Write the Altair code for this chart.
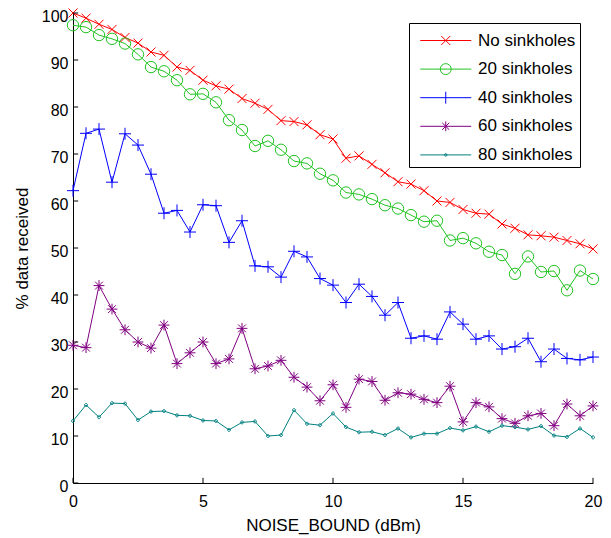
import altair as alt
import pandas as pd

x_values = [0, 0.5, 1, 1.5, 2, 2.5, 3, 3.5, 4, 4.5, 5, 5.5, 6, 6.5, 7, 7.5, 8, 8.5, 9, 9.5,
            10, 10.5, 11, 11.5, 12, 12.5, 13, 13.5, 14, 14.5, 15, 15.5, 16, 16.5, 17, 17.5,
            18, 18.5, 19, 19.5, 20]

series_names = ["No sinkholes", "20 sinkholes", "40 sinkholes", "60 sinkholes", "80 sinkholes"]

no_sinkholes = [100, 98.9, 97.6, 96.5, 94.8, 93.6, 91.7, 91.0, 88.5, 87.8, 85.7, 84.5, 83.8, 81.8,
                80.8, 79.5, 77.1, 76.9, 76.2, 74.1, 73.2, 69.1, 69.6, 67.8, 66.0, 64.1, 63.6, 62.2,
                60.0, 59.7, 58.2, 57.4, 57.2, 55.1, 54.2, 52.8, 52.6, 52.3, 51.6, 50.9, 49.8]
sinkholes_20 = [97.4, 97.0, 95.3, 94.5, 93.5, 91.2, 88.5, 87.6, 85.7, 82.7, 82.8, 81.0, 77.2, 75.1,
                71.7, 72.8, 70.9, 68.5, 68.0, 65.8, 64.4, 61.8, 61.4, 60.4, 59.1, 58.4, 57.0, 55.6,
                55.8, 51.6, 52.1, 51.0, 49.2, 48.5, 44.5, 48.2, 44.9, 45.1, 41.0, 45.2, 43.4]
sinkholes_40 = [62.2, 74.4, 75.3, 64.0, 74.3, 71.9, 65.7, 57.4, 58.0, 53.4, 59.2, 59.0, 51.2, 55.8,
                46.2, 46.0, 43.8, 49.3, 48.1, 43.5, 42.1, 38.4, 42.3, 39.7, 35.7, 38.4, 30.8, 31.3,
                30.6, 36.4, 33.8, 30.6, 31.3, 28.5, 29.0, 30.8, 25.8, 28.5, 26.5, 26.2, 26.8]
sinkholes_60 = [29.3, 28.8, 42.0, 37.0, 32.6, 30.0, 28.7, 33.6, 25.4, 27.7, 30.0, 25.4, 26.4, 32.9,
                24.3, 24.9, 26.1, 22.5, 20.4, 17.5, 20.9, 16.1, 22.1, 21.6, 17.6, 19.2, 18.9, 17.8,
                17.1, 20.6, 13.0, 17.1, 16.2, 13.7, 12.7, 14.3, 14.8, 12.2, 16.8, 14.3, 16.4]
sinkholes_80 = [13.2, 16.6, 14.0, 17.0, 16.9, 13.4, 15.2, 15.3, 14.4, 14.3, 13.3, 13.2, 11.3, 12.9,
                13.1, 10.0, 10.2, 15.5, 12.6, 12.3, 14.8, 11.9, 10.8, 10.9, 10.2, 11.6, 9.7, 10.5,
                10.5, 11.7, 11.2, 12.0, 10.9, 12.2, 11.9, 11.4, 12.1, 10.1, 9.8, 11.6, 9.7]

series_colors = ["#ff0000", "#22c322", "#0000ff", "#800080", "#008080"]

x_tick_values = [0, 5, 10, 15, 20]
y_tick_values = [0, 10, 20, 30, 40, 50, 60, 70, 80, 90, 100]

# marker glyphs (unit coordinates)
marker_paths = [
    "M-0.75,-0.75L0.75,0.75M-0.75,0.75L0.75,-0.75",
    "M0.95,0A0.95,0.95,0,1,1,-0.95,0A0.95,0.95,0,1,1,0.95,0Z",
    "M-1,0L1,0M0,-1L0,1",
    "M-0.9,0L0.9,0M0,-0.9L0,0.9M-0.65,-0.65L0.65,0.65M-0.65,0.65L0.65,-0.65",
    "M0.25,0A0.25,0.25,0,1,1,-0.25,0A0.25,0.25,0,1,1,0.25,0Z",
]
# legend glyphs: line segment plus marker
legend_line = "M-0.48,0L3.44,0"
legend_paths = [
    legend_line + "M1.13,-0.35L1.83,0.35M1.13,0.35L1.83,-0.35",
    legend_line + "M1.9,0A0.42,0.42,0,1,1,1.06,0A0.42,0.42,0,1,1,1.9,0",
    legend_line + "M1.48,-0.46L1.48,0.46",
    legend_line + "M1.48,-0.38L1.48,0.38M1.21,-0.27L1.75,0.27M1.21,0.27L1.75,-0.27",
    legend_line + "M1.58,0A0.1,0.1,0,1,1,1.38,0A0.1,0.1,0,1,1,1.58,0",
]

rows = []
for name, vals in zip(series_names, [no_sinkholes, sinkholes_20, sinkholes_40, sinkholes_60, sinkholes_80]):
    for xv, yv in zip(x_values, vals):
        rows.append({"noise": xv, "received": yv, "series": name})
df = pd.DataFrame(rows)

FONT = "Liberation Sans"

x_scale = alt.Scale(domain=[0, 20], nice=False, zero=False)
y_scale = alt.Scale(domain=[0, 100], nice=False)

x_axis = alt.Axis(values=x_tick_values, title="NOISE_BOUND (dBm)", labelPadding=10, titlePadding=8)
y_axis = alt.Axis(values=y_tick_values, title="% data received", labelPadding=5, labelOffset=3,
                  titlePadding=10)

x_enc = alt.X("noise:Q", scale=x_scale, axis=x_axis)
y_enc = alt.Y("received:Q", scale=y_scale, axis=y_axis)

color_plain = alt.Color("series:N", scale=alt.Scale(domain=series_names, range=series_colors), legend=None)

base = alt.Chart(df)

lines = base.mark_line(strokeWidth=1).encode(x=x_enc, y=y_enc, color=color_plain)

markers = base.mark_point(size=144, strokeWidth=1, opacity=1).encode(
    x=x_enc, y=y_enc, color=color_plain,
    shape=alt.Shape("series:N", scale=alt.Scale(domain=series_names, range=marker_paths), legend=None),
)

legend_spec = alt.Legend(
    orient="none", legendX=336, legendY=10, padding=4, strokeColor="black", fillColor="white",
    labelFont=FONT, labelFontSize=17, labelColor="black", labelOffset=38, rowPadding=6.6,
    symbolStrokeWidth=1, symbolOpacity=1, symbolSize=676, cornerRadius=0,
)

legend_layer = base.mark_point(size=676, opacity=0).encode(
    x=x_enc, y=y_enc,
    color=alt.Color("series:N", scale=alt.Scale(domain=series_names, range=series_colors),
                    title=None, legend=legend_spec),
    shape=alt.Shape("series:N", scale=alt.Scale(domain=series_names, range=legend_paths),
                    title=None, legend=legend_spec),
)

ytick = alt.Chart(pd.DataFrame({"t": y_tick_values})).mark_rule(color="black", strokeWidth=1).encode(
    x=alt.datum(0), x2=alt.datum(0.2), y=alt.Y("t:Q", scale=y_scale, axis=y_axis)
)
xtick = alt.Chart(pd.DataFrame({"t": x_tick_values})).mark_rule(color="black", strokeWidth=1).encode(
    x=alt.X("t:Q", scale=x_scale, axis=x_axis), y=alt.datum(0), y2=alt.datum(1.1)
)

chart = alt.layer(lines, markers, legend_layer, ytick, xtick).resolve_scale(
    shape="independent", color="independent"
).properties(
    width=520, height=470,
    padding={"left": 73, "top": 13, "right": 18, "bottom": 55},
    autosize=alt.AutoSizeParams(type="none"),
).configure_axis(
    labelFont=FONT, titleFont=FONT, labelFontSize=16, titleFontSize=17,
    labelColor="black", titleColor="black", domainColor="black", domainWidth=1,
    ticks=False, tickSize=0, grid=False, titleFontWeight="normal",
    labelFlush=False, labelOverlap=False,
).configure_view(stroke="transparent")

chart.save("out.html", embed_options={"renderer": "svg", "actions": False})
